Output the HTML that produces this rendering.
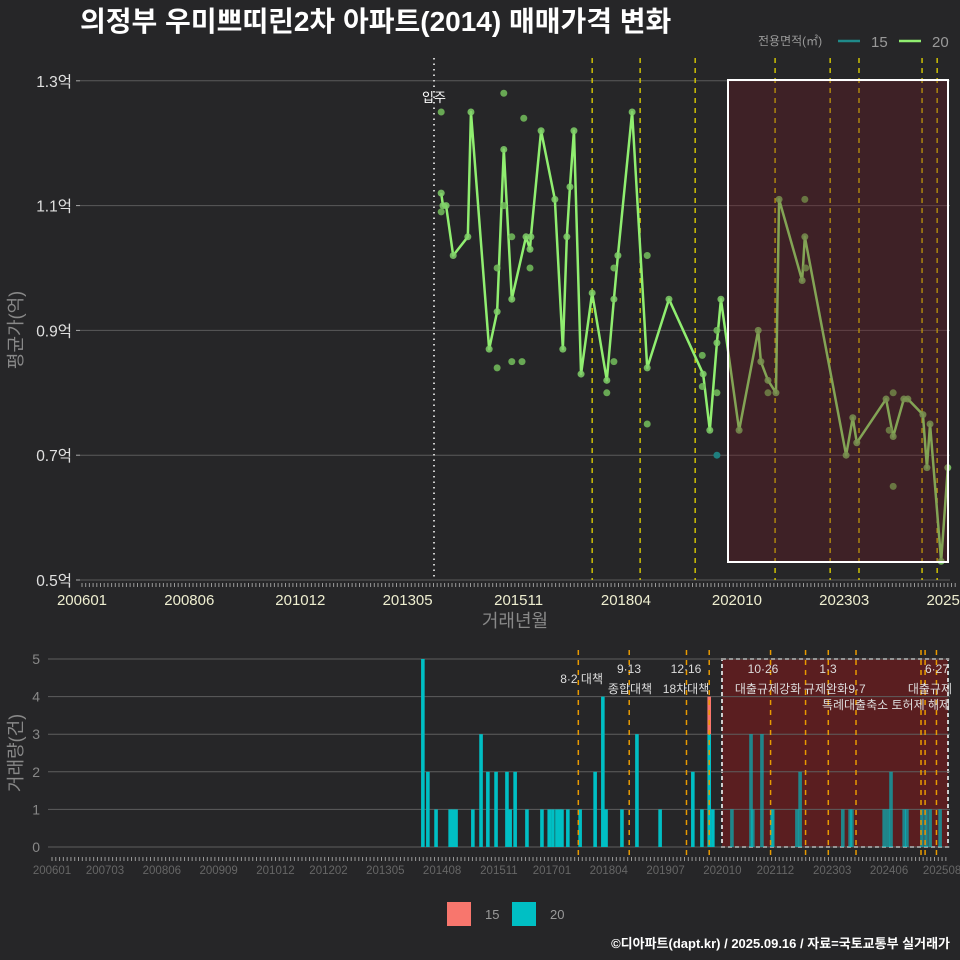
<!DOCTYPE html>
<html><head><meta charset="utf-8">
<style>
body{margin:0;background:#262628;}
svg{display:block;font-family:"Liberation Sans","Noto Sans CJK KR",sans-serif;}
</style></head>
<body>
<svg id="c" width="960" height="960" viewBox="0 0 960 960" xmlns="http://www.w3.org/2000/svg">
<rect width="960" height="960" fill="#262628"/>
<text x="80" y="31" font-size="28" font-weight="bold" fill="#ffffff">의정부 우미쁘띠린2차 아파트(2014) 매매가격 변화</text>
<g id="top"></g>
<g id="bot"></g>
<text x="950" y="948" text-anchor="end" font-size="13" font-weight="bold" fill="#ffffff">©디아파트(dapt.kr) / 2025.09.16 / 자료=국토교통부 실거래가</text>
</svg>
<script>
const lineDates=[2014.09,2014.13,2014.20,2014.36,2014.69,2014.76,2015.17,2015.35,2015.50,2015.68,2016.00,2016.09,2016.11,2016.34,2016.65,2016.83,2016.92,2016.99,2017.08,2017.24,2017.49,2017.82,2017.98,2018.07,2018.39,2018.73,2019.22,2019.99,2020.14,2020.30,2020.39,2020.80,2021.23,2021.29,2021.45,2021.63,2021.70,2022.22,2022.28,2023.21,2023.36,2023.45,2024.11,2024.27,2024.51,2024.60,2024.94,2025.03,2025.10,2025.35,2025.50];
const lineValues=[1.12,1.10,1.10,1.02,1.05,1.25,0.87,0.93,1.19,0.95,1.05,1.03,1.05,1.22,1.11,0.87,1.05,1.13,1.22,0.83,0.96,0.82,0.95,1.02,1.25,0.84,0.95,0.83,0.74,0.88,0.95,0.74,0.90,0.85,0.82,0.80,1.11,0.98,1.05,0.70,0.76,0.72,0.79,0.73,0.79,0.79,0.765,0.68,0.75,0.53,0.68];
const extraDates=[2014.09,2014.09,2015.50,2015.95,2015.35,2015.35,2015.68,2015.91,2016.09,2015.50,2015.68,2017.98,2017.98,2017.82,2018.73,2018.73,2019.97,2019.97,2020.30,2020.30,2021.45,2022.28,2022.30,2024.27,2024.27,2024.18];
const extraValues=[1.25,1.09,1.28,1.24,1.00,0.84,0.85,0.85,1.00,1.10,1.05,1.00,0.85,0.80,0.75,1.02,0.86,0.81,0.80,0.90,0.80,1.11,1.00,0.65,0.80,0.74];
const small15Dates=[2020.30];
const small15Values=[0.70];
const yTicks=[0.5,0.7,0.9,1.1,1.3];
const yTickLabels=["0.5억","0.7억","0.9억","1.1억","1.3억"];
const xTickLabels=["200601","200806","201012","201305","201511","201804","202010","202303","202508"];
const barDates20=[2014.16,2014.27,2014.45,2014.76,2014.82,2014.89,2015.26,2015.44,2015.59,2015.77,2016.01,2016.08,2016.19,2016.45,2016.78,2016.94,2017.02,2017.11,2017.18,2017.22,2017.35,2017.62,2017.95,2018.12,2018.19,2018.54,2018.87,2019.38,2020.10,2020.30,2020.46,2020.54,2020.96,2021.38,2021.42,2021.62,2021.84,2021.86,2022.39,2022.46,2023.40,2023.56,2023.60,2024.31,2024.39,2024.46,2024.75,2024.81,2025.14,2025.23,2025.32,2025.54];
const barCounts20=[5,2,1,1,1,1,1,3,2,2,2,1,2,1,1,1,1,1,1,1,1,1,2,4,1,1,3,1,2,1,3,1,1,3,1,3,1,1,1,2,1,1,1,1,1,2,1,1,1,1,1,1];
const barDates15=[2020.46];
const barCounts15=[1];
const bTicks=[0,1,2,3,4,5];
const bTickLabels=["200601","200703","200806","200909","201012","201202","201305","201408","201511","201701","201804","201907","202010","202112","202303","202406","202508"];
const policyDates=[2017.49,2018.57,2019.81,2021.61,2022.85,2023.50,2024.92,2025.26];

const NS="http://www.w3.org/2000/svg";
function mk(p,t,a){const e=document.createElementNS(NS,t);for(const k in a)e.setAttribute(k,a[k]);p.appendChild(e);return e;}
function ym(s){return parseInt(s.slice(0,4))+(parseInt(s.slice(4))-1)/12;}
const xT=d=>82+(d-2006)*44.4;
const yT=v=>580-(v-0.5)*624;
const xB=d=>52+(d-2006)*45.45;
const yB=v=>847-v*37.6;
const gTop=document.getElementById('top'),gBot=document.getElementById('bot');

yTicks.forEach((v,i)=>{
 const g=mk(gTop,'line',{x1:80,x2:950,y1:yT(v),y2:yT(v),stroke:'#5a5a5a','stroke-width':1});
 
 
 mk(gTop,'line',{x1:76,x2:80,y1:yT(v),y2:yT(v),stroke:'#aaa'});
 const t=mk(gTop,'text',{x:72,y:yT(v)+6,'text-anchor':'end','font-size':15.5,fill:'#e0e0e0'});t.textContent=yTickLabels[i];
 
 
});
for(let m=0;m<=236;m++){mk(gTop,'line',{x1:xT(2006+m/12),x2:xT(2006+m/12),y1:583,y2:587,stroke:'#999','stroke-width':1});}
xTickLabels.forEach(s=>{
 const t=mk(gTop,'text',{x:xT(ym(s)),y:605,'text-anchor':'middle','font-size':15,fill:'#eeeed0'});t.textContent=s;
 
 
});
const vl=mk(gTop,'line',{x1:434,x2:434,y1:58,y2:580,stroke:'#cccccc','stroke-width':2,'stroke-dasharray':'1.5 4'});


const vt=mk(gTop,'text',{x:434,y:102,'text-anchor':'middle','font-size':13,fill:'#fff'});vt.textContent='입주';


policyDates.forEach(d=>{
 const l=mk(gTop,'line',{x1:xT(d),x2:xT(d),y1:58,y2:580,stroke:'#e6d800','stroke-width':1.3,'stroke-dasharray':'5 5'});
 
 
});
const pts=lineDates.map((d,i)=>xT(d)+','+yT(lineValues[i])).join(' ');
const pl=mk(gTop,'polyline',{points:pts,fill:'none',stroke:'#90ee70','stroke-width':2.5,'stroke-linejoin':'round'});


lineDates.forEach((d,i)=>{
 const c=mk(gTop,'circle',{cx:xT(d),cy:yT(lineValues[i]),r:3.5,fill:'#80d068','fill-opacity':0.85});
 
 
});
extraDates.forEach((d,i)=>{
 const c=mk(gTop,'circle',{cx:xT(d),cy:yT(extraValues[i]),r:3.5,fill:'#74c05c','fill-opacity':0.85});
 
 
});
small15Dates.forEach((d,i)=>{
 const c=mk(gTop,'circle',{cx:xT(d),cy:yT(small15Values[i]),r:3.5,fill:'#1f7f7f'});
 
 
});
const box=mk(gTop,'rect',{x:728,y:80,width:220,height:482,fill:'rgba(110,25,35,0.35)',stroke:'#ffffff','stroke-width':2});


const ya=mk(gTop,'text',{x:0,y:0,transform:'translate(22,330) rotate(-90)','text-anchor':'middle','font-size':18,fill:'#888'});ya.textContent='평균가(억)';


const xa=mk(gTop,'text',{x:515,y:627,'text-anchor':'middle','font-size':18,fill:'#888'});xa.textContent='거래년월';


const lg=mk(gTop,'g',{});


let t1=mk(lg,'text',{x:758,y:45,'font-size':12,fill:'#999'});t1.textContent='전용면적(㎡)';
mk(lg,'line',{x1:838,x2:860,y1:41,y2:41,stroke:'#1f8a8a','stroke-width':2.5});
let t2=mk(lg,'text',{x:871,y:47,'font-size':15,fill:'#999'});t2.textContent='15';
mk(lg,'line',{x1:899,x2:921,y1:41,y2:41,stroke:'#90ee70','stroke-width':2.5});
let t3=mk(lg,'text',{x:932,y:47,'font-size':15,fill:'#999'});t3.textContent='20';

const bb=mk(gBot,'rect',{x:722,y:659,width:226,height:188,fill:'#5a1e20','stroke':'#cccccc','stroke-width':2,'stroke-dasharray':'4 3'});


bTicks.forEach(v=>{
 const g=mk(gBot,'line',{x1:48,x2:950,y1:yB(v),y2:yB(v),stroke:'#5e5e5e','stroke-width':1});
 
 
 const t=mk(gBot,'text',{x:40,y:yB(v)+5,'text-anchor':'end','font-size':14,fill:'#888'});t.textContent=v;
 
 
});
for(let m=0;m<=236;m++){mk(gBot,'line',{x1:xB(2006+m/12),x2:xB(2006+m/12),y1:857,y2:861,stroke:'#999','stroke-width':1});}
bTickLabels.forEach(s=>{
 const t=mk(gBot,'text',{x:xB(ym(s)),y:874,'text-anchor':'middle','font-size':11.5,fill:'#666'});t.textContent=s;
 
 
});
barDates20.forEach((d,i)=>{
 const r=mk(gBot,'rect',{x:xB(d)-1.8,y:yB(barCounts20[i]),width:3.6,height:barCounts20[i]*37.6,fill:'#00bfc4','fill-opacity':xB(d)>722?0.65:1});
 
 
});
barDates15.forEach((d,i)=>{
 const base=barCounts20[barDates20.indexOf(d)]||0;
 const r=mk(gBot,'rect',{x:xB(d)-1.8,y:yB(base+barCounts15[i]),width:3.6,height:barCounts15[i]*37.6,fill:'#f8766d'});
 
 
});
const bpol=[2017.58,2018.70,2019.96,2020.46,2021.81,2022.58,2023.08,2023.69,2025.12,2025.21,2025.46];
bpol.forEach(d=>{
 const l=mk(gBot,'line',{x1:xB(d),x2:xB(d),y1:650,y2:857,stroke:'#e89a00','stroke-width':1.5,'stroke-dasharray':'5 5'});
 
 
});
const ann=[[603,683,'end','8·2 대책'],[629,673,'middle','9·13'],[630,693,'middle','종합대책'],[686,673,'middle','12·16'],[686,693,'middle','18차대책'],[763,673,'middle','10·26'],[768,693,'middle','대출규제강화'],[828,673,'middle','1·3'],[826,693,'middle','규제완화'],[857,693,'middle','9·7'],[886,709,'middle','특례대출축소 토허제 해제'],[937,673,'middle','6·27'],[952,693,'end','대출규제']];
ann.forEach(a=>{
 const t=mk(gBot,'text',{x:a[0],y:a[1],'text-anchor':a[2],'font-size':12,fill:'#dddddd'});t.textContent=a[3];
 
 
});
const yb=mk(gBot,'text',{x:0,y:0,transform:'translate(22,753) rotate(-90)','text-anchor':'middle','font-size':18,fill:'#888'});yb.textContent='거래량(건)';


const bl=mk(gBot,'g',{});


mk(bl,'rect',{x:447,y:902,width:24,height:24,fill:'#f8766d'});
let b1=mk(bl,'text',{x:485,y:919,'font-size':13,fill:'#999'});b1.textContent='15';
mk(bl,'rect',{x:512,y:902,width:24,height:24,fill:'#00bfc4'});
let b2=mk(bl,'text',{x:550,y:919,'font-size':13,fill:'#999'});b2.textContent='20';
</script>
</body></html>
